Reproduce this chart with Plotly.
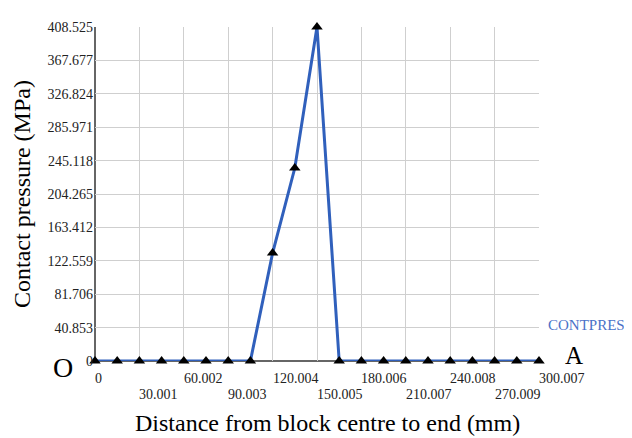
import plotly.graph_objects as go

# Data
distance_mm = [0, 15, 30, 45, 60, 75, 90, 105, 120, 135, 150, 165, 180, 195, 210,
               225, 240, 255, 270, 285, 300.007]
contact_pressure = [0, 0, 0, 0, 0, 0, 0, 0, 132, 236, 408.525, 0, 0, 0, 0,
                    0, 0, 0, 0, 0, 0]

y_ticks = [0, 40.853, 81.706, 122.559, 163.412, 204.265, 245.118, 285.971,
           326.824, 367.677, 408.525]
y_tick_text = ["0", "40.853", "81.706", "122.559", "163.412", "204.265", "245.118",
               "285.971", "326.824", "367.677", "408.525"]
x_ticks = [0, 30.001, 60.002, 90.003, 120.004, 150.005, 180.006, 210.007,
           240.008, 270.009, 300.007]
x_tick_text = ["0", "30.001", "60.002", "90.003", "120.004", "150.005", "180.006",
               "210.007", "240.008", "270.009", "300.007"]

serif = "Liberation Serif, Times New Roman, serif"
line_blue = "#3060bc"

fig = go.Figure()
fig.add_trace(go.Scatter(
    x=distance_mm, y=contact_pressure, mode="lines+markers",
    line=dict(color=line_blue, width=3),
    marker=dict(symbol="triangle-up", size=10, color="black"),
    cliponaxis=False, showlegend=False,
))

# page body has an 8px margin; compensate so plot sits at x 95-539, y 21-361
fig.update_layout(
    width=624, height=430,
    margin=dict(l=87, r=93, t=13, b=77),
    paper_bgcolor="white", plot_bgcolor="white",
    font=dict(family=serif, color="black"),
    xaxis=dict(range=[0, 300.007], tickvals=x_ticks, ticktext=[""] * len(x_ticks),
               showgrid=True, gridcolor="#cfcfcf", gridwidth=1,
               zeroline=False, showline=False, ticks=""),
    yaxis=dict(range=[0, 408.525], tickvals=y_ticks, ticktext=y_tick_text,
               showgrid=True, gridcolor="#cfcfcf", gridwidth=1,
               zeroline=False, showline=False, ticks="",
               tickfont=dict(family=serif, size=14, color="#222"), ticklabelstandoff=1),
)

# black axis lines (left and bottom)
fig.add_shape(type="line", xref="paper", yref="paper", x0=0, x1=0, y0=0, y1=1,
              line=dict(color="#333", width=1.5), layer="below")
fig.add_shape(type="line", xref="paper", yref="paper", x0=0, x1=1, y0=0, y1=0,
              line=dict(color="#333", width=1.5), layer="below")

# staggered, left-aligned x tick labels
for i, (v, t) in enumerate(zip(x_ticks, x_tick_text)):
    fig.add_annotation(x=v, y=0, xref="x", yref="paper", text=t, showarrow=False,
                       xanchor="left", yanchor="middle", xshift=-2,
                       yshift=-17 if i % 2 == 0 else -33,
                       font=dict(family=serif, size=14, color="#222"))

# axis titles and labels (explicit anchors: centred on the given point)
def label(x, y, xs, ys, text, size, color="black", angle=0):
    fig.add_annotation(xref="paper", yref="paper", x=x, y=y, xshift=xs, yshift=ys,
                       xanchor="center", yanchor="middle", text=text,
                       showarrow=False, textangle=angle, borderpad=0,
                       font=dict(family=serif, size=size, color=color))

label(0, 0.5, -73, 0, "Contact pressure (MPa)", 24, angle=-90)
label(0.5236, 0, 0, -62, "Distance from block centre to end (mm)", 24)
label(0, 0, -32, -6, "O", 28)
label(1, 0, 35, 6, "A", 25)
label(1, 0, 47, 36, "CONTPRES", 15, color="#4a72c8")

fig.write_html("out.html")
